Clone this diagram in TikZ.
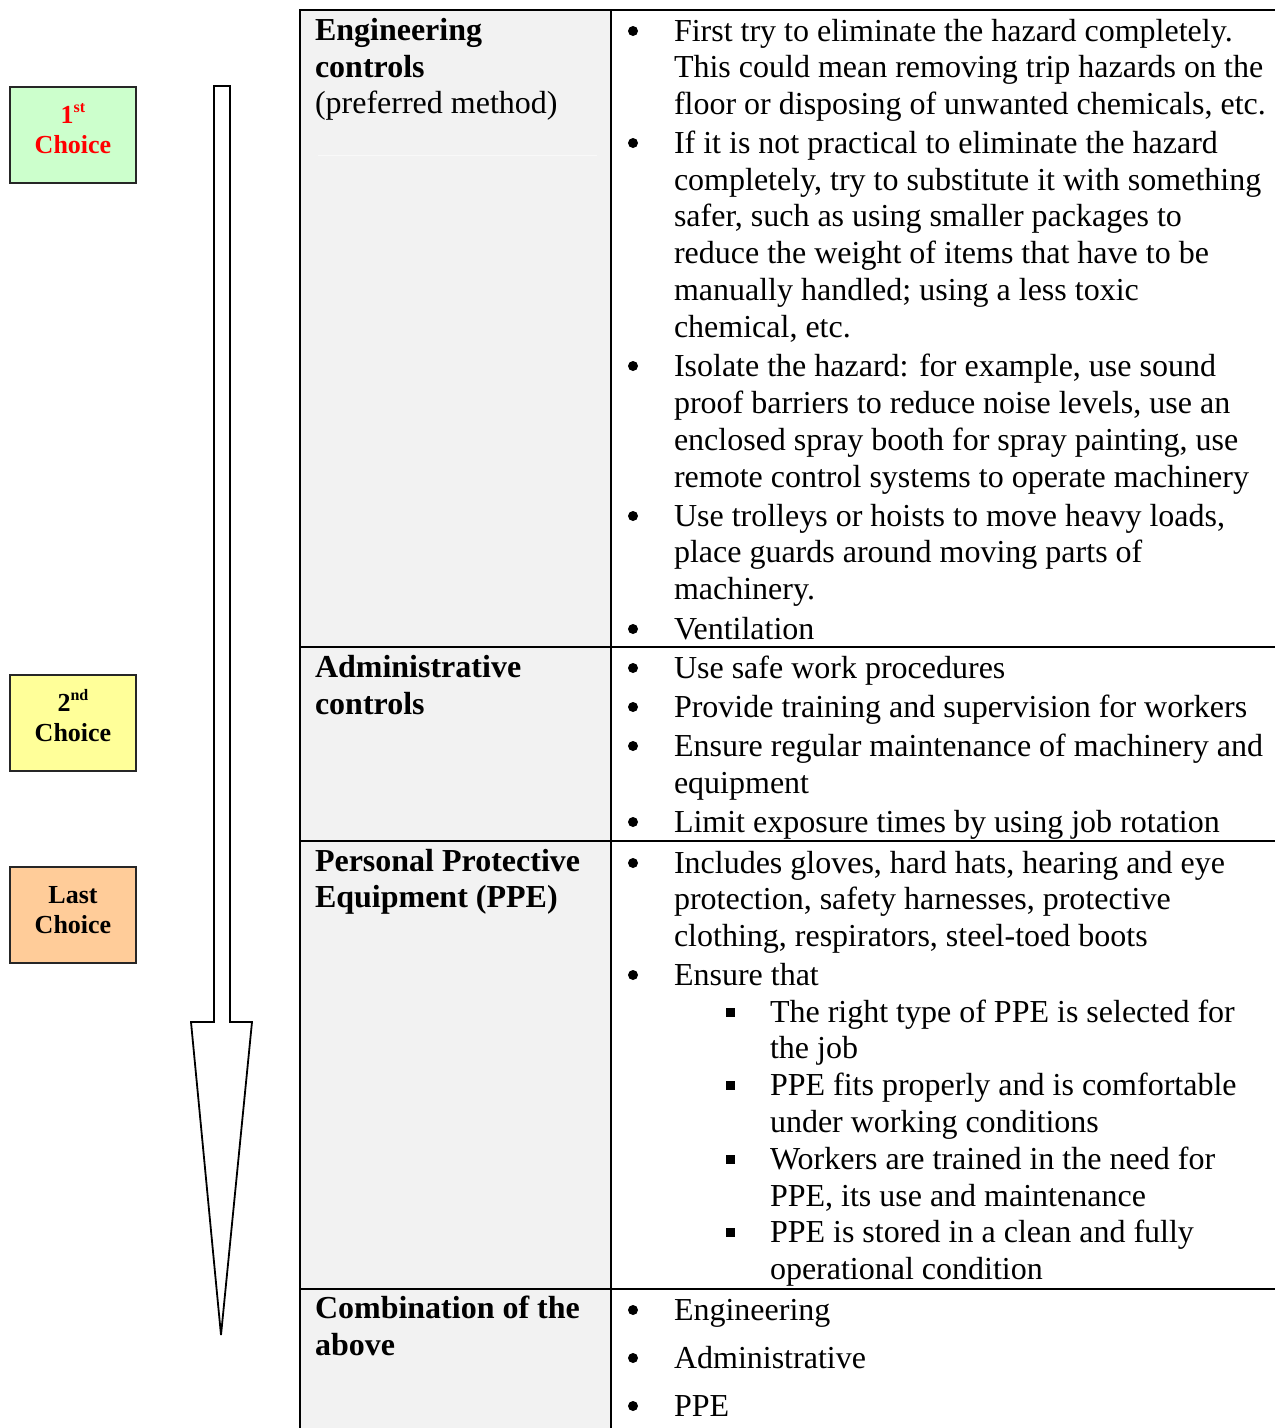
\documentclass[tikz,border=0pt]{standalone}
\usepackage{fontspec}
\setmainfont{Liberation Serif}
\definecolor{cellgray}{HTML}{F2F2F2}
\definecolor{faintline}{HTML}{F9F9F9}
\definecolor{boxgreen}{HTML}{CCFFCC}
\definecolor{boxyellow}{HTML}{FFFF99}
\definecolor{boxorange}{HTML}{FFCC99}
\definecolor{boxred}{HTML}{FF0000}
\newcounter{tlc}
\newcommand\tline[3]{\stepcounter{tlc}\node[txt] (t\arabic{tlc}) at (#1,#2) {#3};}
\newcommand\bul[3]{\stepcounter{tlc}\fill (633,#1-10) circle (5);\node[txt] (t\arabic{tlc}) at (674,#1) {#2};#3}
\newcommand\sbul[2]{\stepcounter{tlc}\fill (725.5,#1-14.5) rectangle (734.5,#1-5.5);\node[txt] (t\arabic{tlc}) at (770,#1) {#2};}
\newcommand\choicefont{\fontsize{26}{31}\selectfont\bfseries}
\newcommand\supx[1]{\raisebox{0.42em}{\fontsize{16}{16}\selectfont\bfseries #1}}
\begin{document}
\begin{tikzpicture}[x=1pt,y=-1pt,
  txt/.style={anchor=base west,inner sep=0pt,outer sep=0pt,font=\fontsize{32}{37}\selectfont},
  hdr/.style={txt,font=\fontsize{32}{37}\selectfont\bfseries},
  choicebox/.style={draw=black!85,line width=1.8pt},
  ctext/.style={anchor=base,inner sep=0pt,font=\choicefont},
  rule/.style={line width=2pt,black}]
\useasboundingbox (0,0) rectangle (1275,1428);
% shaded column
\fill[cellgray] (300,10) rectangle (611,1428);
\draw[faintline,line width=1pt] (318,155) -- (597,155);
% table rules
\draw[rule] (300,10) -- (1275,10);
\draw[rule] (300,9) -- (300,1428);
\draw[rule] (611,10) -- (611,1428);
\draw[rule] (300,647) -- (1275,647);
\draw[rule] (300,841) -- (1275,841);
\draw[rule] (300,1289) -- (1275,1289);
% choice boxes
\draw[choicebox,fill=boxgreen] (10,87) rectangle (136,183);
\node[ctext,text=boxred] (c1a) at (73,123) {1\supx{st}};
\node[ctext,text=boxred] (c1b) at (73,153) {Choice};
\draw[choicebox,fill=boxyellow] (10,675) rectangle (136,771);
\node[ctext] (c2a) at (73,711) {2\supx{nd}};
\node[ctext] (c2b) at (73,741) {Choice};
\draw[choicebox,fill=boxorange] (10,867) rectangle (136,963);
\node[ctext] (c3a) at (73,903) {Last};
\node[ctext] (c3b) at (73,933) {Choice};
% arrow
\draw[line width=1.8pt,line join=miter] (214,86) -- (230,86) -- (230,1022) -- (252,1022) -- (221,1335) -- (191,1022) -- (214,1022) -- cycle;
% row 1 left
\node[hdr] (h1) at (315,40) {Engineering};
\node[hdr] (h2) at (315,77) {controls};
\node[txt] (h3) at (315,113) {(preferred method)};
% row 1 right
\bul{41}{First try to eliminate the hazard completely.}{}
\tline{674}{77}{This could mean removing trip hazards on the}
\tline{674}{114}{floor or disposing of unwanted chemicals, etc.}
\bul{153}{If it is not practical to eliminate the hazard}{}
\tline{674}{190}{completely, try to substitute it with something}
\tline{674}{226}{safer, such as using smaller packages to}
\tline{674}{263}{reduce the weight of items that have to be}
\tline{674}{300}{manually handled; using a less toxic}
\tline{674}{337}{chemical, etc.}
\bul{376}{Isolate the hazard: for example, use sound}{}
\tline{674}{413}{proof barriers to reduce noise levels, use an}
\tline{674}{450}{enclosed spray booth for spray painting, use}
\tline{674}{487}{remote control systems to operate machinery}
\bul{526}{Use trolleys or hoists to move heavy loads,}{}
\tline{674}{562}{place guards around moving parts of}
\tline{674}{599}{machinery.}
\bul{639}{Ventilation}{}
% row 2
\node[hdr] (h4) at (315,677) {Administrative};
\node[hdr] (h5) at (315,714) {controls};
\bul{678}{Use safe work procedures}{}
\bul{717}{Provide training and supervision for workers}{}
\bul{756}{Ensure regular maintenance of machinery and}{}
\tline{674}{793}{equipment}
\bul{832}{Limit exposure times by using job rotation}{}
% row 3
\node[hdr] (h6) at (315,871) {Personal Protective};
\node[hdr] (h7) at (315,907) {Equipment (PPE)};
\bul{873}{Includes gloves, hard hats, hearing and eye}{}
\tline{674}{909}{protection, safety harnesses, protective}
\tline{674}{946}{clothing, respirators, steel-toed boots}
\bul{985}{Ensure that}{}
\sbul{1022}{The right type of PPE is selected for}
\tline{770}{1058}{the job}
\sbul{1095}{PPE fits properly and is comfortable}
\tline{770}{1132}{under working conditions}
\sbul{1169}{Workers are trained in the need for}
\tline{770}{1206}{PPE, its use and maintenance}
\sbul{1242}{PPE is stored in a clean and fully}
\tline{770}{1279}{operational condition}
% row 4
\node[hdr] (h8) at (315,1318) {Combination of the};
\node[hdr] (h9) at (315,1355) {above};
\bul{1320}{Engineering}{}
\bul{1368}{Administrative}{}
\bul{1416}{PPE}{}
\end{tikzpicture}
\end{document}
